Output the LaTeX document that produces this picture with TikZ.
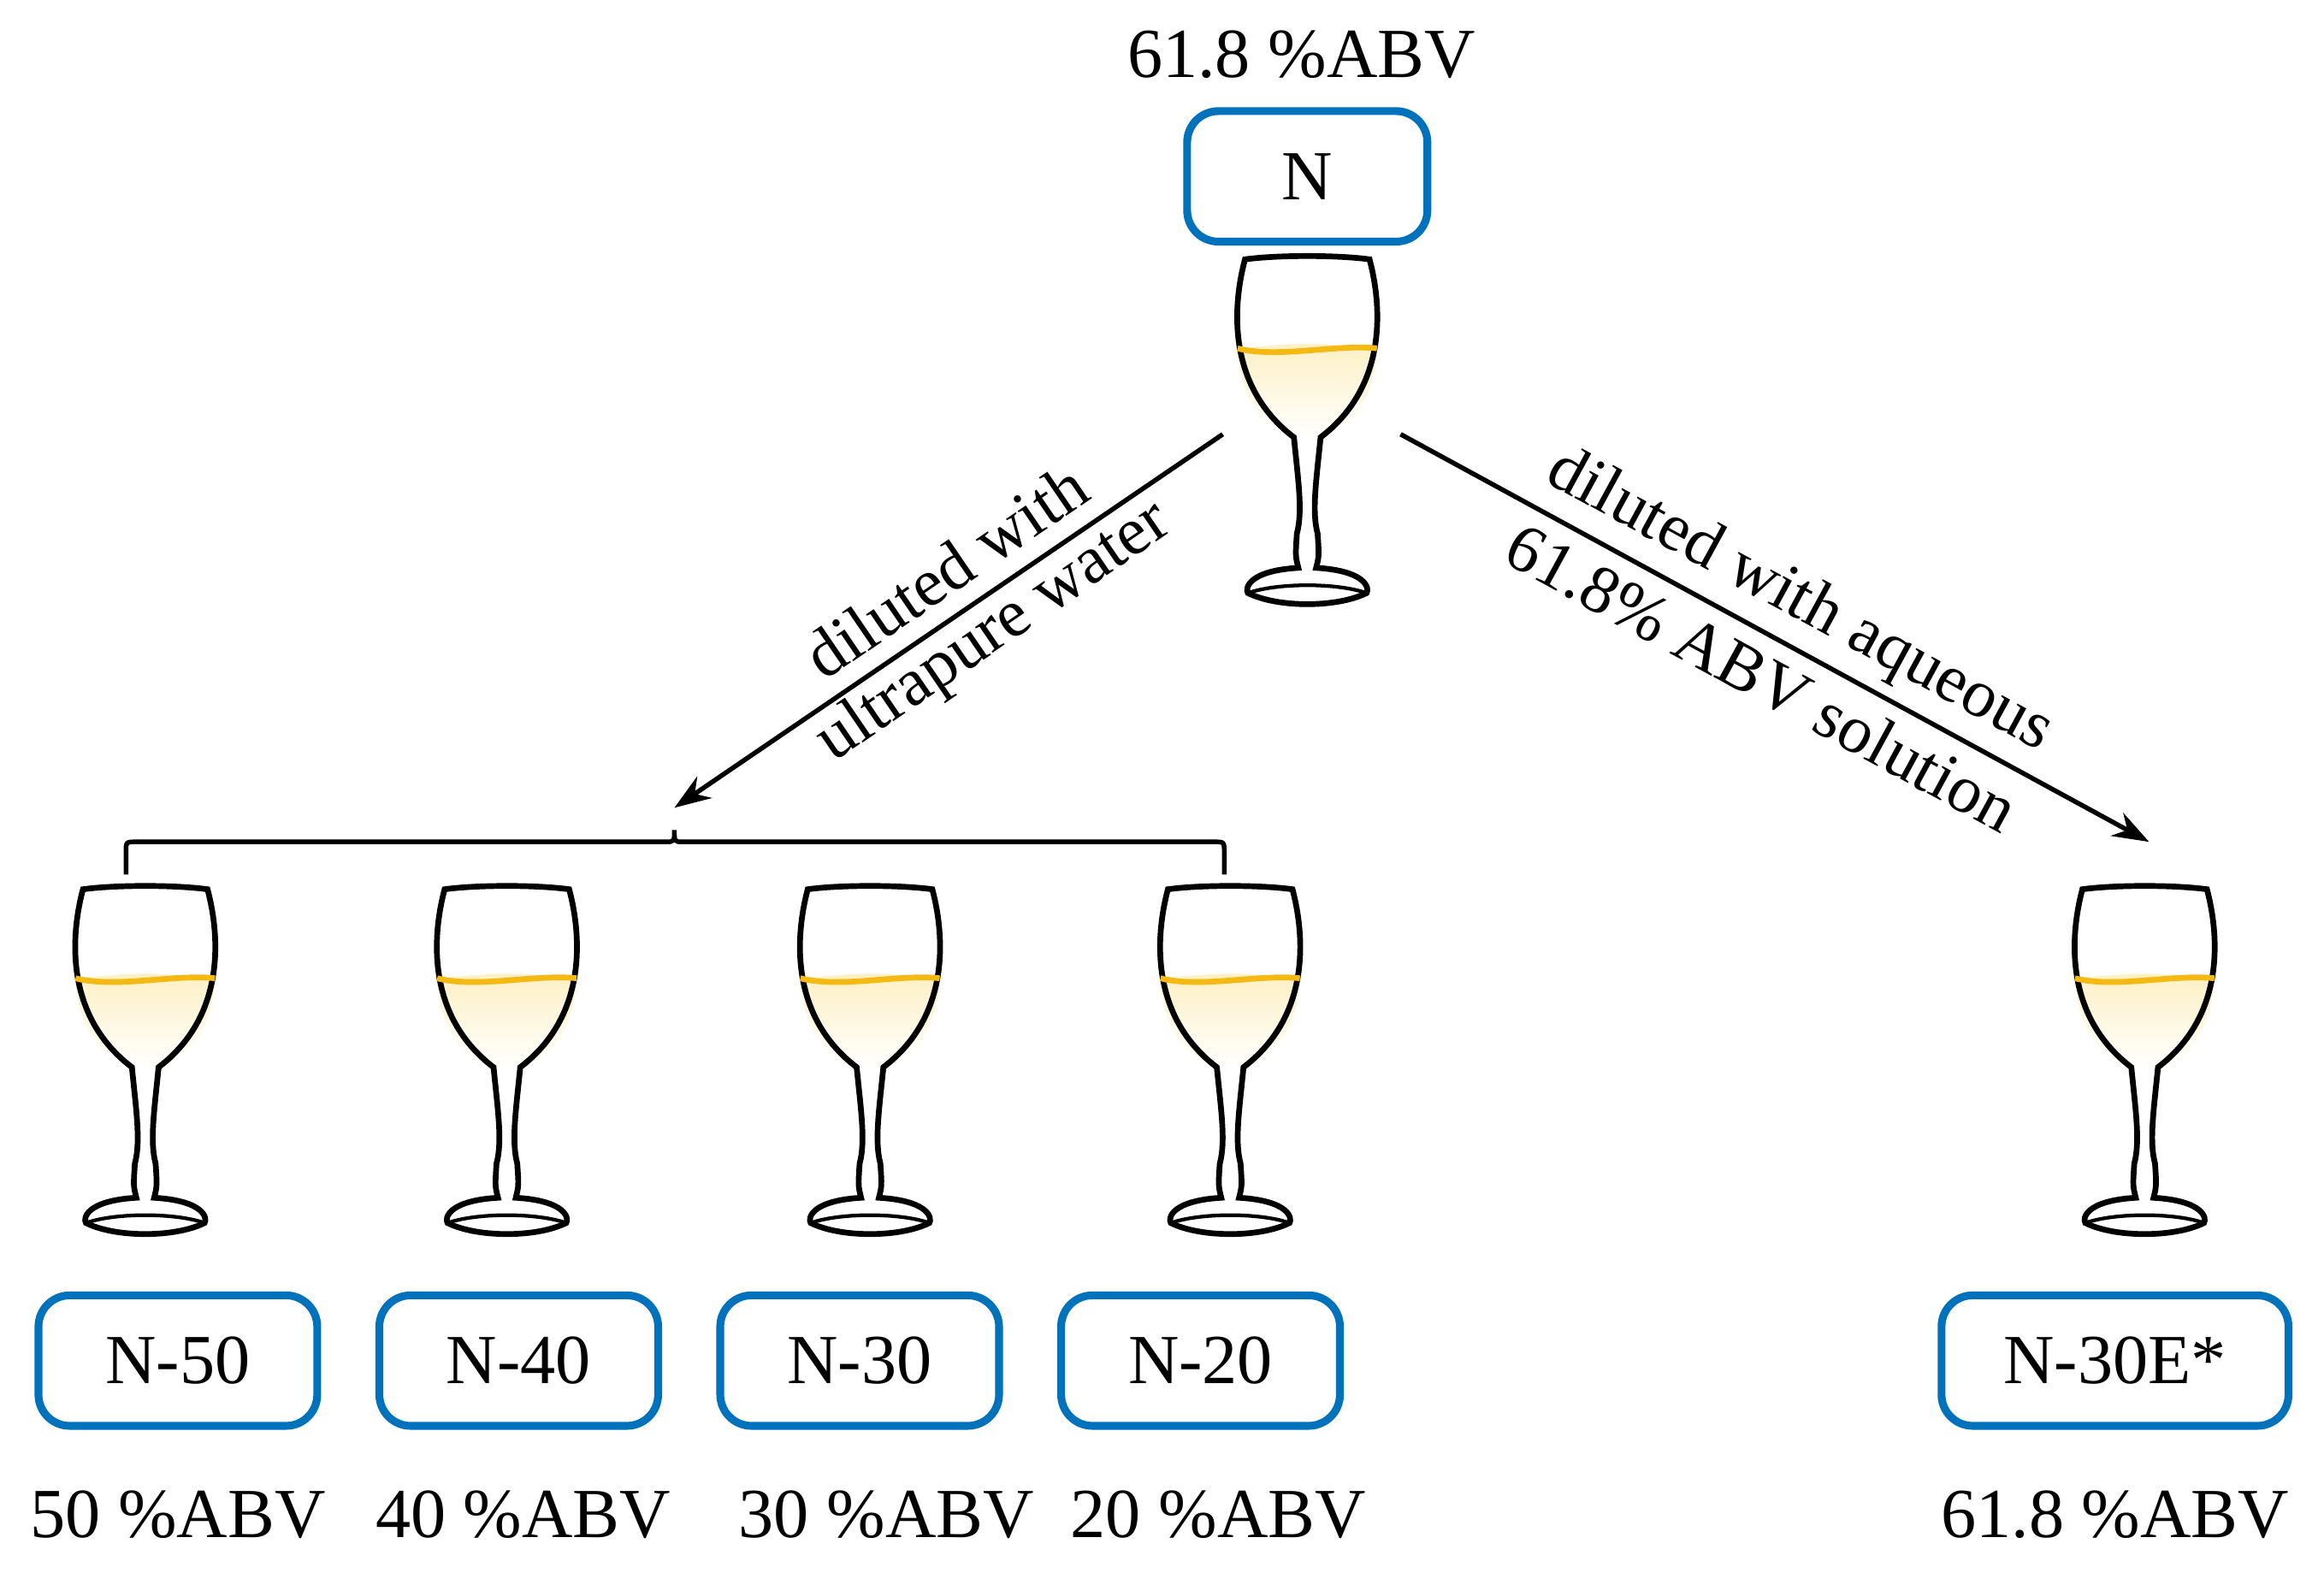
\documentclass[tikz,border=0pt]{standalone}
\usepackage{fontspec}
\setmainfont{Liberation Serif}
\usetikzlibrary{arrows.meta}
\definecolor{bblue}{RGB}{0,114,188}
\definecolor{wine}{RGB}{245,185,20}
\definecolor{pale}{RGB}{253,240,195}
\tikzset{
  box/.style={draw=bblue,line width=1.5pt,rounded corners=6pt,minimum width=#1,minimum height=0.88cm,font=\fontsize{13.5}{16}\selectfont},
  lbl/.style={font=\fontsize{13.5}{16}\selectfont},
  alb/.style={font=\fontsize{13}{16}\selectfont},
  arr/.style={line width=0.9pt,-{Stealth[length=7pt,width=5pt]}},
  glass/.pic={
   \begin{scope}[x=1cm,y=1cm]
    \shade[top color=pale,bottom color=white] (-0.47,-0.60) .. controls (0,-0.56) .. (0.47,-0.60) .. controls (0.45,-1.0) and (0.25,-1.15) .. (0.09,-1.2) -- (-0.09,-1.2) .. controls (-0.25,-1.15) and (-0.45,-1.0) .. cycle;
    \draw[line width=1.1pt] (-0.42,0) .. controls (-0.5,-0.3) and (-0.55,-0.85) .. (-0.09,-1.2)
      .. controls (-0.06,-1.5) and (-0.03,-1.7) .. (-0.07,-1.85) .. controls (-0.08,-2.0) .. (-0.06,-2.08)
      .. controls (-0.4,-2.1) and (-0.42,-2.22) .. (-0.4,-2.25) .. controls (-0.2,-2.35) and (0.2,-2.35) .. (0.4,-2.25)
      .. controls (0.42,-2.22) and (0.4,-2.1) .. (0.06,-2.08) .. controls (0.08,-2.0) .. (0.07,-1.85)
      .. controls (0.03,-1.7) and (0.06,-1.5) .. (0.09,-1.2) .. controls (0.55,-0.85) and (0.5,-0.3) .. (0.42,0)
      .. controls (0.2,0.03) and (-0.2,0.03) .. cycle;
    \draw[line width=0.7pt] (-0.4,-2.25) .. controls (-0.2,-2.18) and (0.2,-2.18) .. (0.4,-2.25);
    \draw[wine,line width=1.1pt] (-0.47,-0.60) .. controls (-0.2,-0.67) and (0.2,-0.57) .. (0.47,-0.60);
   \end{scope}
  }
}
\begin{document}
\begin{tikzpicture}[x=0.01cm,y=-0.01cm]
\useasboundingbox (0,0) rectangle (1568,1061);
\node[lbl] (t0) at (878,37) {61.8 \%ABV};
\node[box=1.62cm] (N) at (882,119) {N};
\pic at (882,175) {glass};
\foreach \x in {98,342,587,830,1447} \pic at (\x,600) {glass};
\node[box=1.88cm] (b50) at (120,918) {N-50};
\node[box=1.88cm] (b40) at (350,918) {N-40};
\node[box=1.88cm] (b30) at (580,918) {N-30};
\node[box=1.88cm] (b20) at (810,918) {N-20};
\node[box=2.34cm] (be) at (1427,918) {N-30E*};
\node[lbl] at (120,1022) {50 \%ABV};
\node[lbl] at (353,1022) {40 \%ABV};
\node[lbl] at (598,1022) {30 \%ABV};
\node[lbl] at (822,1022) {20 \%ABV};
\node[lbl] at (1427,1022) {61.8 \%ABV};
\coordinate (ls) at (825,293); \coordinate (lt) at (455,545);
\coordinate (rs) at (945,293); \coordinate (rt) at (1450,568);
\draw[arr] (ls) -- (lt);
\draw[arr] (rs) -- (rt);
\draw[line width=0.9pt] (85,590) -- (85,575) .. controls (85,568) .. (92,568) -- (449,568) .. controls (455,568) .. (455,560) .. controls (455,568) .. (461,568) -- (819,568) .. controls (826,568) .. (826,575) -- (826,590);
\node[alb,rotate=34.3] at (638,385) {diluted with};
\node[alb,rotate=34.3] at (671,427) {ultrapure water};
\node[alb,rotate=-28.6] at (1214,406) {diluted with aqueous};
\node[alb,rotate=-28.6] at (1189,457) {61.8\% ABV solution};
\end{tikzpicture}
\end{document}
